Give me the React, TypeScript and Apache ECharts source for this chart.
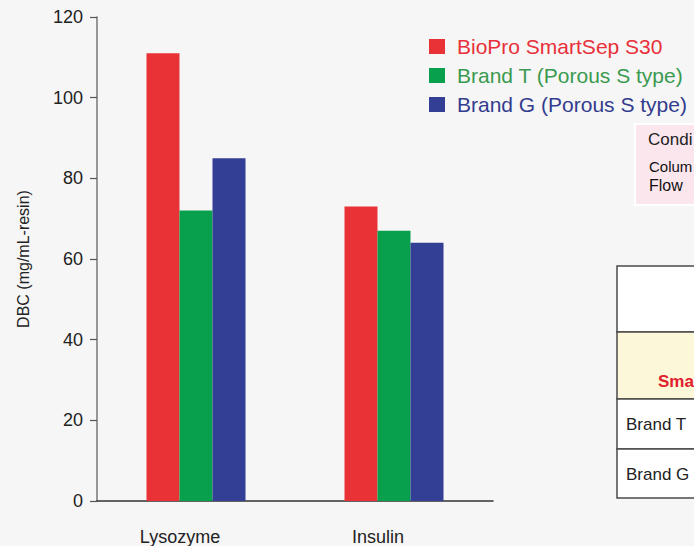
import React, { useEffect, useRef } from "react";
import * as echarts from "echarts";

const categories = ["Lysozyme", "Insulin"];
const seriesNames = ["BioPro SmartSep S30", "Brand T (Porous S type)", "Brand G (Porous S type)"];
const bioproValues = [111, 73];
const brandTValues = [72, 67];
const brandGValues = [85, 64];
const barColors = ["#e93235", "#08a04c", "#333f95"];
const legendTextColors = ["#e8303a", "#3a9a50", "#333c8e"];
const yAxisTitle = "DBC (mg/mL-resin)";
const conditionLines = ["Condi", "Colum", "Flow"];
const tableRows = ["", "Sma", "Brand T", "Brand G"];

const FONT = "'Liberation Sans', Arial, Helvetica, sans-serif";

export default function App() {
  const ref = useRef<HTMLDivElement>(null);
  useEffect(() => {
    if (!ref.current) return;
    const chart = echarts.init(ref.current, undefined, { renderer: "svg" });
    const values = [bioproValues, brandTValues, brandGValues];
    const rowTops = [266, 332, 399, 449, 498];
    const rowFills = ["#ffffff", "#fdf7da", "#ffffff", "#ffffff"];
    const graphics: any[] = [];
    // conditions box
    graphics.push({
      type: "rect",
      shape: { x: 635, y: 124, width: 200, height: 81 },
      style: { fill: "#fbe6ee", stroke: "#ffffff", lineWidth: 2 },
    });
    graphics.push({
      type: "text",
      x: 648,
      y: 139,
      style: { text: conditionLines[0], font: `17px ${FONT}`, fill: "#222", verticalAlign: "middle" },
    });
    graphics.push({
      type: "text",
      x: 649,
      y: 166,
      style: { text: conditionLines[1], font: `15px ${FONT}`, fill: "#111", verticalAlign: "middle" },
    });
    graphics.push({
      type: "text",
      x: 649,
      y: 185,
      style: { text: conditionLines[2], font: `16px ${FONT}`, fill: "#111", verticalAlign: "middle" },
    });
    // table
    for (let i = 0; i < 4; i++) {
      graphics.push({
        type: "rect",
        shape: { x: 617, y: rowTops[i], width: 300, height: rowTops[i + 1] - rowTops[i] },
        style: { fill: rowFills[i], stroke: "#4a4a4a", lineWidth: 1.5 },
      });
    }
    graphics.push({
      type: "text",
      x: 658,
      y: 381,
      style: { text: tableRows[1], font: `bold 17px ${FONT}`, fill: "#e0202a", verticalAlign: "middle" },
    });
    graphics.push({
      type: "text",
      x: 626,
      y: 424,
      style: { text: tableRows[2], font: `17px ${FONT}`, fill: "#222", verticalAlign: "middle" },
    });
    graphics.push({
      type: "text",
      x: 626,
      y: 474,
      style: { text: tableRows[3], font: `17px ${FONT}`, fill: "#222", verticalAlign: "middle" },
    });

    chart.setOption({
      animation: false,
      backgroundColor: "#f6f6f6",
      textStyle: { fontFamily: FONT },
      grid: { left: 97, top: 17, right: 201, bottom: 45, containLabel: false },
      legend: {
        orient: "vertical",
        left: 429,
        top: 36,
        padding: 0,
        itemWidth: 16,
        itemHeight: 15,
        itemGap: 8,
        icon: "rect",
        data: seriesNames.map((n, i) => ({
          name: n,
          textStyle: {
            color: legendTextColors[i],
            fontSize: 21,
            lineHeight: 21,
            fontFamily: FONT,
            padding: [0, 0, 0, 7],
          },
        })),
      },
      xAxis: {
        type: "category",
        data: categories,
        axisLine: { show: true, lineStyle: { color: "#333", width: 1.5 } },
        axisTick: { show: false },
        axisLabel: {
          fontSize: 18,
          color: "#222",
          margin: 27,
          fontFamily: FONT,
          padding: [0, 32, 0, 0],
        },
        splitLine: { show: false },
      },
      yAxis: {
        type: "value",
        min: 0,
        max: 120,
        interval: 20,
        name: yAxisTitle,
        nameLocation: "middle",
        nameGap: 66,
        nameRotate: 90,
        nameTextStyle: { fontSize: 16, color: "#222", fontFamily: FONT },
        axisLine: { show: true, lineStyle: { color: "#777", width: 1.5 } },
        axisTick: { show: true, length: 7, inside: false, lineStyle: { color: "#555", width: 1.2 } },
        axisLabel: { fontSize: 18, color: "#222", margin: 14, fontFamily: FONT },
        splitLine: { show: false },
      },
      series: seriesNames.map((n, i) => ({
        name: n,
        type: "bar",
        data: values[i],
        barWidth: 33,
        barGap: "0%",
        itemStyle: { color: barColors[i] },
      })),
      graphic: graphics,
    });
    return () => chart.dispose();
  }, []);
  return (
    <div
      ref={ref}
      style={{ position: "absolute", left: 0, top: 0, width: 694, height: 546 }}
    />
  );
}
